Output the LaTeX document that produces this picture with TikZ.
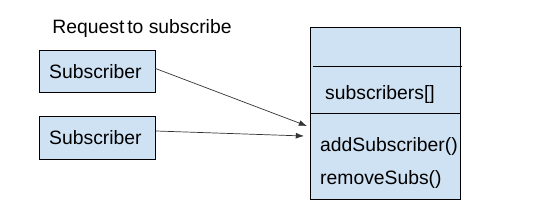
\documentclass[tikz,border=0pt]{standalone}
\usepackage{fontspec}
\setmainfont{Liberation Sans}
\usepackage{xcolor}
\usepackage{tikz}
\usetikzlibrary{arrows.meta,positioning}
\definecolor{boxblue}{HTML}{CFE2F3}
\tikzset{
  subbox/.style={draw=black, fill=boxblue, line width=0.8pt, minimum width=3.48cm, minimum height=1.28cm, inner sep=0pt},
  label/.style={anchor=west, inner sep=0pt, font=\fontsize{16.5}{19}\selectfont},
  req/.style={-{Latex[length=7pt,width=5pt]}, line width=0.6pt, draw=black!80}
}

\begin{document}
\begin{tikzpicture}[x=0.03cm, y=-0.03cm]
      % 1 unit = 1 px of the reference
      \useasboundingbox (0,0) rectangle (536,204);
      \node[font=\fontsize{16.5}{19}\selectfont] (title) at (142,29) {Request\hspace{0.15em}to subscribe};
      \node[subbox] (sub1) at (97,71.5) {};
      \node[label] (sub1text) at (49,71.5) {Subscriber};
      \node[subbox] (sub2) at (97.5,138) {};
      \node[label] (sub2text) at (49,138) {Subscriber};
      % subject box
      \node[draw=black, fill=boxblue, line width=0.8pt, minimum width=4.5cm, minimum height=5.16cm, inner sep=0pt] (subject) at (385,113) {};
      \draw[line width=0.6pt] (313,66) -- (462,66);
      \draw[line width=0.8pt] (subject.west |- 0,113) -- (subject.east |- 0,113);
      \node[label] (fields) at (325,95) {subscribers[]};
      \node[label] (add) at (320,146) {addSubscriber()};
      \node[label] (remove) at (320,179) {removeSubs()};
      \coordinate (in1) at (307,126);
      \coordinate (in2) at (304,136);
      \draw[req] (sub1.east) ++(0,-3) coordinate (out1) -- (in1);
      \draw[req] (sub2.east) ++(0,-7) coordinate (out2) -- (in2);
    \end{tikzpicture}
\end{document}
